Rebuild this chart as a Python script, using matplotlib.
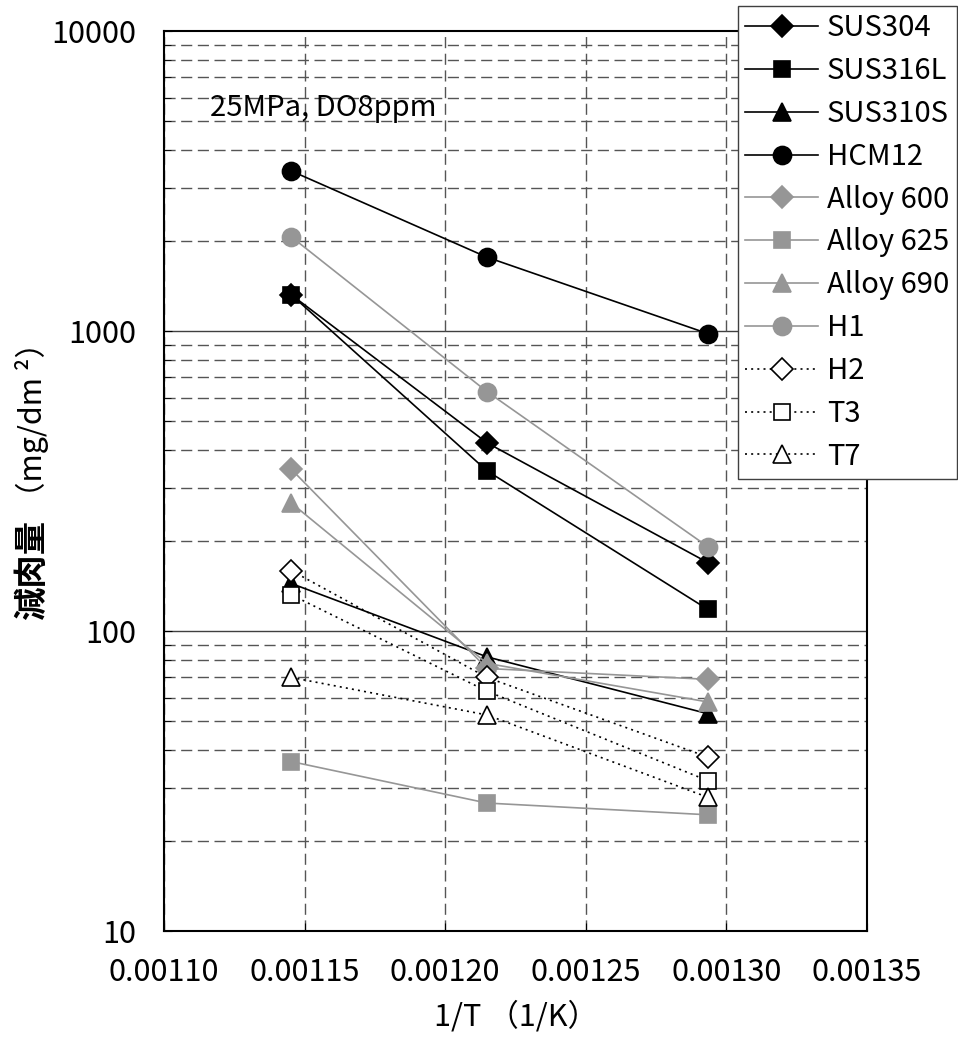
import numpy as np
import matplotlib
matplotlib.use("Agg")
import matplotlib.pyplot as plt
from matplotlib.ticker import FixedLocator, LogLocator, NullFormatter, FuncFormatter

plt.rcParams['font.family'] = ['Noto Sans CJK JP', 'DejaVu Sans']

# test temperatures 600, 550, 500 degC -> 1/T
temps_c = [600, 550, 500]
inv_t = [1.0 / (t + 273.15) for t in temps_c]

# weight loss (mg/dm2) at each temperature
materials = ['SUS304', 'SUS316L', 'SUS310S', 'HCM12',
             'Alloy 600', 'Alloy 625', 'Alloy 690', 'H1',
             'H2', 'T3', 'T7']
sus304 = [1320, 424, 169]
sus316l = [1320, 342, 118]
sus310s = [144, 82, 53]
hcm12 = [3415, 1762, 980]
alloy600 = [346, 75, 69]
alloy625 = [36.7, 26.7, 24.4]
alloy690 = [267, 78, 58]
h1 = [2060, 628, 191]
h2 = [159, 70, 38]
t3 = [132, 63, 31.7]
t7 = [70, 52.5, 27.9]

gray = '#969696'
dots = (0, (1.2, 2.5))
styles = {
    'SUS304': dict(color='k', marker='D', mfc='k', mec='k', ls='-', ms=11),
    'SUS316L': dict(color='k', marker='s', mfc='k', mec='k', ls='-', ms=11),
    'SUS310S': dict(color='k', marker='^', mfc='k', mec='k', ls='-', ms=13),
    'HCM12': dict(color='k', marker='o', mfc='k', mec='k', ls='-', ms=13),
    'Alloy 600': dict(color=gray, marker='D', mfc=gray, mec=gray, ls='-', ms=11),
    'Alloy 625': dict(color=gray, marker='s', mfc=gray, mec=gray, ls='-', ms=11),
    'Alloy 690': dict(color=gray, marker='^', mfc=gray, mec=gray, ls='-', ms=13),
    'H1': dict(color=gray, marker='o', mfc=gray, mec=gray, ls='-', ms=13),
    'H2': dict(color='k', marker='D', mfc='white', mec='k', ls=dots, ms=11),
    'T3': dict(color='k', marker='s', mfc='white', mec='k', ls=dots, ms=12),
    'T7': dict(color='k', marker='^', mfc='white', mec='k', ls=dots, ms=13),
}
series = [sus304, sus316l, sus310s, hcm12, alloy600, alloy625,
          alloy690, h1, h2, t3, t7]

fig = plt.figure(figsize=(9.58, 10.40), dpi=100)
ax = fig.add_axes([164 / 958, 1 - 931 / 1040, 703 / 958, 900 / 1040])

ax.set_yscale('log')
ax.set_xlim(0.00110, 0.00135)
ax.set_ylim(10, 10000)

ax.xaxis.set_major_locator(FixedLocator([0.00110, 0.00115, 0.00120, 0.00125, 0.00130, 0.00135]))
ax.xaxis.set_major_formatter(FuncFormatter(lambda v, p: f'{v:.5f}'))
ax.yaxis.set_major_locator(FixedLocator([10, 100, 1000, 10000]))
ax.yaxis.set_major_formatter(FuncFormatter(lambda v, p: f'{int(round(v))}'))
ax.yaxis.set_minor_locator(LogLocator(base=10, subs=np.arange(2, 10)))
ax.yaxis.set_minor_formatter(NullFormatter())

# grid: dashed minor lines, solid lines at the decades
for yv in [100, 1000]:
    ax.axhline(yv, color='#404040', lw=1.0, zorder=1)
ax.grid(True, axis='y', which='minor', color='#555555', lw=1.0, ls=(0, (8, 4)), zorder=1)
ax.grid(True, axis='x', which='major', color='#555555', lw=1.0, ls=(0, (8, 4)), zorder=1)

for name, vals in zip(materials, series):
    st = styles[name]
    ax.plot(inv_t, vals, color=st['color'], ls=st['ls'], lw=1.2,
            marker=st['marker'], ms=st['ms'], mfc=st['mfc'], mec=st['mec'],
            mew=1.2, label=name, zorder=3)

for sp in ax.spines.values():
    sp.set_linewidth(1.5)
    sp.set_color('k')

ax.tick_params(axis='both', which='both', direction='in', labelsize=22)
ax.tick_params(axis='y', which='major', length=6, pad=20)
ax.tick_params(axis='y', which='minor', length=5)
ax.tick_params(axis='x', which='major', length=6, pad=19)

ax.text(0.0011165, 5535, '25MPa, DO8ppm', fontsize=21, va='center', ha='left')

ax.set_xlabel('1/T （1/K）', fontsize=22, labelpad=9)
fig.text(32 / 958, 1 - 570 / 1040, '減肉量', rotation=90, fontsize=24,
         fontweight='bold', ha='center', va='center')
fig.text(32 / 958, 1 - 420 / 1040, '（mg/dm ²）', rotation=90, fontsize=22,
         ha='center', va='center')

leg = ax.legend(loc='upper left', bbox_to_anchor=(738 / 958, 1 - 6 / 1040),
                bbox_transform=fig.transFigure, fontsize=21, frameon=True,
                fancybox=False, edgecolor='#404040', framealpha=1,
                borderaxespad=0, borderpad=0.25, handlelength=2.5,
                handletextpad=0.3, labelspacing=0.44, numpoints=1)
leg.get_frame().set_linewidth(1.0)

fig.savefig('out.png', dpi=100)
